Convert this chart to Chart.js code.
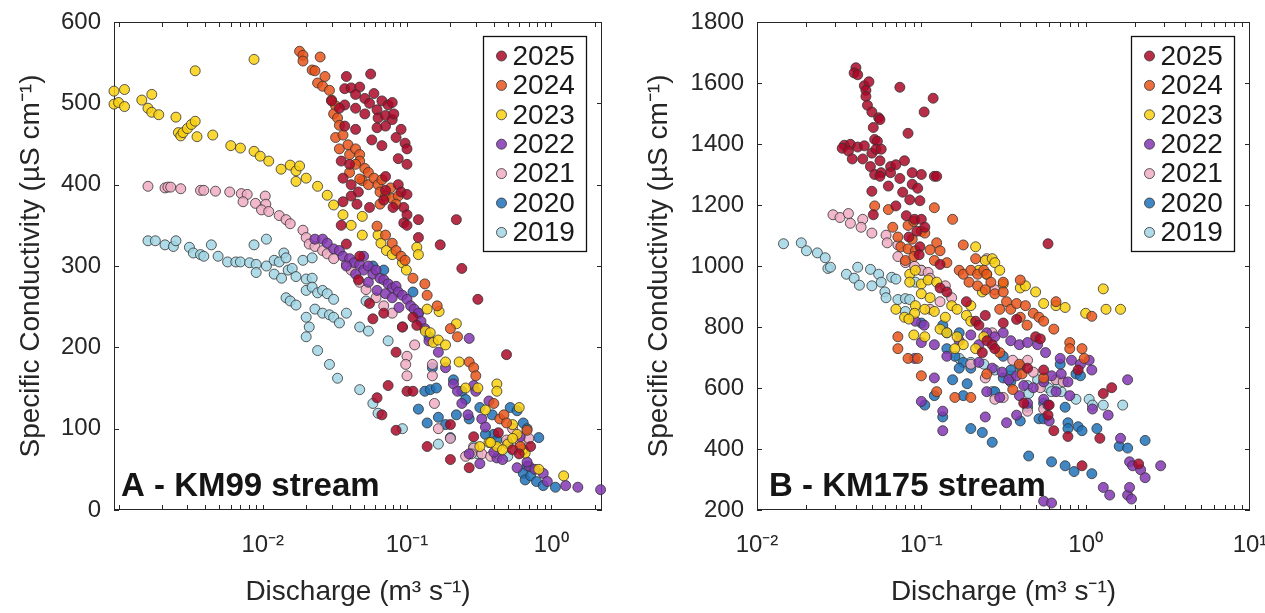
<!DOCTYPE html>
<html>
<head>
<meta charset="utf-8">
<script src="https://cdn.jsdelivr.net/npm/chart.js@4.4.1/dist/chart.umd.min.js"></script>
<style>
  body { margin: 0; background: #fff; width: 1265px; height: 613px; overflow: hidden; }
  canvas { position: absolute; top: 0; }
</style>
</head>
<body>
<canvas id="chartA" width="632" height="613" style="left:0"></canvas>
<canvas id="chartB" width="633" height="613" style="left:632px"></canvas>
<script>
const years = ['2025', '2024', '2023', '2022', '2021', '2020', '2019'];
const fills = ['rgba(172,8,40,0.85)', 'rgba(232,85,26,0.85)', 'rgba(249,208,14,0.85)', 'rgba(132,55,179,0.85)',
               'rgba(240,173,196,0.85)', 'rgba(32,114,185,0.85)', 'rgba(161,214,228,0.85)'];
const edge = 'rgba(50,50,50,0.8)';
const ink = '#262626';

// labelled decades on the discharge axes
const decadesA = [0.01, 0.1, 1];
const decadesB = [0.01, 0.1, 1, 10];

// KM99 stream: [discharge m3/s, specific conductivity uS/cm]
const km99_2025 = [[0.038,533],[0.056,536],[0.037,518],[0.041,519],[0.047,520],[0.044,511],[0.051,506],[0.059,512],[0.055,500],[0.067,503],[0.074,498],[0.079,501],[0.03,503],[0.037,498],[0.034,494],[0.044,494],[0.051,487],[0.062,492],[0.063,482],[0.071,485],[0.079,480],[0.081,487],[0.091,468],[0.071,472],[0.062,470],[0.044,468],[0.037,472],[0.057,455],[0.067,448],[0.084,458],[0.097,451],[0.1,444],[0.087,432],[0.1,425],[0.035,429],[0.04,425],[0.036,408],[0.041,400],[0.046,391],[0.041,386],[0.036,379],[0.045,376],[0.055,372],[0.071,410],[0.087,400],[0.071,393],[0.091,391],[0.1,388],[0.069,381],[0.08,372],[0.095,372],[0.1,363],[0.095,353],[0.1,350],[0.12,357],[0.12,335],[0.035,350],[0.038,327],[0.22,357],[0.17,326],[0.24,297],[0.31,259],[0.49,191],[0.047,312],[0.046,283],[0.055,254],[0.058,235],[0.069,242],[0.093,225],[0.11,237],[0.117,227],[0.084,194],[0.074,153],[0.1,146],[0.11,146],[0.062,138],[0.067,117],[0.084,98],[0.2,105],[0.138,78],[0.2,62],[0.27,52],[0.29,90],[0.54,74],[0.72,78],[0.6,69],[0.43,95]];
const km99_2024 = [[0.018,564],[0.019,559],[0.019,552],[0.025,557],[0.022,541],[0.023,540],[0.024,525],[0.027,533],[0.026,521],[0.029,516],[0.03,504],[0.032,497],[0.031,487],[0.033,482],[0.034,473],[0.032,458],[0.036,461],[0.034,444],[0.039,449],[0.04,437],[0.044,444],[0.047,437],[0.047,429],[0.044,425],[0.051,420],[0.054,415],[0.04,415],[0.049,405],[0.054,400],[0.059,408],[0.063,400],[0.067,406],[0.077,396],[0.065,391],[0.071,386],[0.065,376],[0.079,383],[0.087,386],[0.084,376],[0.047,407],[0.062,349],[0.071,338],[0.079,328],[0.084,319],[0.091,312],[0.097,307],[0.11,285],[0.133,278],[0.138,264],[0.162,251],[0.2,223],[0.224,213],[0.27,182],[0.29,175],[0.3,165],[0.4,131],[0.44,112],[0.47,117],[0.49,107],[0.61,78],[0.68,98]];
const km99_2023 = [[0.00093,515],[0.00093,499],[0.001,501],[0.0011,496],[0.0011,517],[0.00145,504],[0.0016,494],[0.0017,511],[0.0017,489],[0.0019,486],[0.0025,483],[0.0026,464],[0.0027,460],[0.0028,464],[0.003,469],[0.0032,474],[0.0034,478],[0.0035,459],[0.0034,540],[0.0045,461],[0.006,448],[0.007,445],[0.0087,554],[0.0087,441],[0.0096,435],[0.011,429],[0.0134,419],[0.0155,424],[0.017,417],[0.018,423],[0.017,404],[0.02,408],[0.024,398],[0.028,387],[0.031,375],[0.036,363],[0.041,350],[0.049,361],[0.049,338],[0.063,338],[0.066,328],[0.072,319],[0.079,314],[0.093,304],[0.099,295],[0.117,323],[0.12,314],[0.138,247],[0.167,244],[0.134,220],[0.145,218],[0.152,206],[0.165,209],[0.185,203],[0.185,182],[0.22,229],[0.23,182],[0.255,150],[0.31,150],[0.42,155],[0.42,146],[0.35,123],[0.37,83],[0.42,78],[0.5,81],[0.54,105],[0.6,126],[0.58,93],[0.63,74],[0.66,70],[0.54,88],[0.82,50],[1.22,42],[0.32,78],[0.38,83],[0.46,74]];
const km99_2022 = [[0.023,333],[0.026,333],[0.028,328],[0.031,321],[0.034,319],[0.036,312],[0.04,309],[0.043,304],[0.047,302],[0.05,295],[0.054,300],[0.058,290],[0.061,295],[0.065,285],[0.069,283],[0.074,278],[0.079,273],[0.084,275],[0.087,268],[0.093,264],[0.1,259],[0.106,251],[0.112,247],[0.12,242],[0.125,232],[0.133,223],[0.044,290],[0.054,280],[0.062,270],[0.071,266],[0.079,261],[0.088,249],[0.05,312],[0.038,300],[0.142,208],[0.165,194],[0.185,175],[0.21,155],[0.224,146],[0.24,131],[0.265,117],[0.27,211],[0.29,153],[0.3,146],[0.37,134],[0.33,112],[0.35,102],[0.42,64],[0.46,62],[0.58,52],[0.7,54],[0.77,50],[0.88,45],[0.94,35],[1.26,30],[1.53,28],[2.2,25],[0.61,90],[0.68,59],[0.27,69],[0.32,57],[0.4,71]];
const km99_2021 = [[0.0016,398],[0.0021,396],[0.0022,397],[0.0023,397],[0.0027,395],[0.0037,393],[0.0039,393],[0.0047,392],[0.0059,391],[0.0071,389],[0.0078,388],[0.0073,379],[0.0089,377],[0.0104,386],[0.0105,376],[0.0098,369],[0.011,367],[0.013,362],[0.0145,357],[0.0155,352],[0.019,344],[0.02,335],[0.021,327],[0.023,324],[0.026,319],[0.028,315],[0.031,309],[0.038,302],[0.041,295],[0.047,280],[0.052,271],[0.061,261],[0.069,251],[0.079,242],[0.093,225],[0.113,203],[0.1,189],[0.098,179],[0.1,165],[0.15,179],[0.15,165],[0.155,131],[0.165,100],[0.2,88],[0.29,76],[0.28,69],[0.33,69],[0.38,66],[0.49,86],[0.54,100],[0.61,83],[0.7,88],[0.255,66]];
const km99_2020 = [[0.058,300],[0.069,295],[0.11,268],[0.12,242],[0.142,213],[0.15,175],[0.133,146],[0.145,148],[0.16,150],[0.12,124],[0.138,107],[0.165,114],[0.185,105],[0.2,89],[0.21,160],[0.24,146],[0.255,136],[0.32,126],[0.39,117],[0.4,93],[0.52,126],[0.58,122],[0.64,107],[0.68,100],[0.82,89],[0.64,74],[0.68,54],[0.64,45],[0.66,37],[0.72,42],[0.79,35],[0.88,30],[1.07,28],[0.22,117],[0.27,112],[0.35,93],[0.42,86],[0.5,83]];
const km99_2019 = [[0.0016,331],[0.0018,331],[0.0021,326],[0.0024,324],[0.0025,331],[0.0031,323],[0.0033,316],[0.0037,314],[0.0039,312],[0.0044,326],[0.0049,312],[0.0057,305],[0.0065,305],[0.007,305],[0.0081,304],[0.009,302],[0.0087,326],[0.009,292],[0.0106,333],[0.0106,300],[0.012,307],[0.013,305],[0.014,316],[0.0145,310],[0.015,295],[0.016,297],[0.017,287],[0.019,307],[0.022,310],[0.02,284],[0.022,285],[0.012,290],[0.0135,285],[0.0145,261],[0.0155,257],[0.017,252],[0.02,270],[0.022,274],[0.024,267],[0.026,270],[0.028,266],[0.031,259],[0.023,247],[0.026,242],[0.029,240],[0.031,237],[0.034,230],[0.038,242],[0.02,237],[0.021,225],[0.02,213],[0.024,196],[0.029,179],[0.033,162],[0.047,225],[0.054,220],[0.047,148],[0.058,131],[0.063,119],[0.074,208],[0.052,257],[0.093,100],[0.165,81],[0.29,78],[0.31,69],[0.5,66]];

// KM175 stream
const km175_2025 = [[0.04,1650],[0.039,1633],[0.041,1627],[0.045,1591],[0.048,1604],[0.046,1576],[0.074,1586],[0.046,1556],[0.047,1527],[0.05,1505],[0.055,1486],[0.056,1480],[0.051,1454],[0.104,1505],[0.118,1550],[0.052,1415],[0.054,1409],[0.083,1435],[0.034,1396],[0.037,1399],[0.041,1390],[0.045,1394],[0.033,1386],[0.036,1377],[0.038,1351],[0.044,1351],[0.05,1370],[0.053,1383],[0.057,1383],[0.056,1345],[0.049,1326],[0.052,1300],[0.057,1306],[0.065,1326],[0.07,1332],[0.079,1345],[0.065,1306],[0.074,1287],[0.056,1294],[0.063,1262],[0.077,1242],[0.088,1268],[0.088,1306],[0.1,1300],[0.12,1294],[0.124,1294],[0.095,1255],[0.05,1245],[0.085,1217],[0.098,1214],[0.051,1168],[0.07,1197],[0.081,1165],[0.091,1153],[0.1,1153],[0.105,1127],[0.094,1114],[0.084,1095],[0.098,1063],[0.097,1037],[0.13,1005],[0.13,928],[0.143,915],[0.188,883],[0.214,819],[0.224,806],[0.245,838],[0.251,755],[0.27,742],[0.28,729],[0.315,813],[0.38,825],[0.496,768],[0.53,761],[0.59,1073],[0.443,665],[0.42,550],[0.555,659],[0.6,544],[0.59,511],[0.64,460],[0.78,441],[0.9,659],[0.95,345],[1.28,582],[1.44,601],[1.22,435],[2.1,351],[0.235,716]];
const km175_2024 = [[0.052,1197],[0.063,1185],[0.12,1191],[0.155,1153],[0.067,1127],[0.083,1133],[0.09,1146],[0.1,1114],[0.072,1095],[0.088,1088],[0.105,1108],[0.124,1076],[0.075,1063],[0.083,1056],[0.092,1050],[0.113,1053],[0.13,1050],[0.08,1018],[0.09,1031],[0.12,1018],[0.143,1011],[0.17,986],[0.18,1069],[0.214,1024],[0.18,973],[0.2,986],[0.22,973],[0.24,986],[0.25,973],[0.195,947],[0.22,935],[0.265,947],[0.245,922],[0.28,909],[0.315,915],[0.33,883],[0.3,858],[0.35,858],[0.38,877],[0.315,947],[0.4,954],[0.43,870],[0.48,845],[0.52,832],[0.555,819],[0.64,793],[0.66,883],[0.8,749],[0.95,729],[0.98,697],[1.09,835],[0.8,729],[0.4,832],[0.44,806],[0.3,716],[0.25,646],[0.395,678],[0.41,646],[0.555,633],[0.072,768],[0.072,729],[0.083,697],[0.1,640],[0.124,588],[0.16,569],[0.2,569],[0.095,697],[0.36,595]];
const km175_2023 = [[0.214,1063],[0.245,1018],[0.27,1024],[0.28,1011],[0.3,986],[0.25,973],[0.224,986],[0.235,915],[0.315,941],[0.4,928],[0.43,935],[0.496,915],[0.555,877],[0.66,870],[0.75,864],[1.0,845],[1.28,925],[1.33,858],[1.63,858],[0.085,973],[0.092,986],[0.085,947],[0.1,941],[0.11,954],[0.124,947],[0.1,909],[0.113,896],[0.092,870],[0.091,845],[0.105,858],[0.12,851],[0.14,832],[0.153,870],[0.165,858],[0.188,838],[0.07,858],[0.079,832],[0.084,826],[0.09,774],[0.105,768],[0.13,793],[0.143,781],[0.165,768],[0.18,742],[0.16,729],[0.214,729],[0.24,768],[0.2,870],[0.2,819]];
const km175_2022 = [[0.092,819],[0.104,806],[0.1,749],[0.12,742],[0.143,704],[0.17,755],[0.2,774],[0.224,742],[0.25,781],[0.28,768],[0.315,781],[0.35,755],[0.395,742],[0.443,749],[0.51,742],[0.57,716],[0.7,697],[0.82,691],[1.05,691],[1.09,659],[0.224,684],[0.27,665],[0.31,652],[0.34,627],[0.38,640],[0.42,608],[0.48,601],[0.555,620],[0.62,640],[0.66,588],[0.78,620],[0.8,575],[0.71,646],[0.25,588],[0.3,569],[0.395,575],[0.443,550],[0.38,511],[0.555,563],[0.59,544],[0.6,492],[1.1,531],[1.37,511],[1.8,627],[1.63,435],[1.85,358],[1.93,345],[2.16,332],[2.3,306],[2.86,345],[1.28,274],[1.4,249],[1.8,249],[1.85,274],[1.9,236],[0.555,229],[0.62,223],[0.135,460],[0.135,524],[0.1,556],[0.12,633],[0.245,505],[0.33,486],[0.091,697],[0.93,678]];
const km175_2021 = [[0.029,1168],[0.032,1159],[0.036,1172],[0.037,1140],[0.044,1153],[0.043,1127],[0.05,1108],[0.061,1101],[0.062,1076],[0.072,1069],[0.072,1031],[0.08,1011],[0.091,999],[0.1,986],[0.11,979],[0.113,960],[0.14,935],[0.153,896],[0.13,883],[0.113,858],[0.25,1024],[0.28,922],[0.27,781],[0.2,678],[0.245,633],[0.315,569],[0.36,691],[0.443,691],[0.48,652],[0.53,601],[0.66,627],[0.73,620],[0.555,531],[0.443,524],[0.28,563]];
const km175_2020 = [[0.1,813],[0.135,806],[0.143,781],[0.17,781],[0.143,729],[0.16,704],[0.18,684],[0.17,665],[0.2,665],[0.19,614],[0.155,627],[0.12,575],[0.105,544],[0.135,505],[0.18,575],[0.2,467],[0.235,454],[0.27,422],[0.28,588],[0.315,633],[0.35,659],[0.4,672],[0.443,537],[0.4,492],[0.45,377],[0.555,550],[0.52,499],[0.555,499],[0.62,358],[0.7,678],[0.75,537],[0.78,486],[0.78,467],[0.75,345],[0.85,326],[0.873,646],[0.93,640],[0.9,473],[0.95,460],[1.09,319],[1.17,467],[1.6,409],[1.8,403],[2.3,428],[0.35,620],[0.315,704]];
const km175_2019 = [[0.0145,1073],[0.0186,1076],[0.02,1050],[0.0233,1043],[0.026,1027],[0.027,992],[0.028,996],[0.035,973],[0.041,996],[0.039,960],[0.042,937],[0.049,989],[0.05,935],[0.055,973],[0.057,947],[0.06,915],[0.061,896],[0.066,963],[0.07,957],[0.072,890],[0.08,893],[0.085,890],[0.08,851],[0.092,947],[0.1,986],[0.17,697],[0.2,684],[0.24,678],[0.28,659],[0.35,640],[0.443,608],[0.51,627],[0.59,601],[0.62,588],[0.71,588],[0.873,563],[1.05,563],[1.1,544],[1.28,544],[1.68,544],[0.27,588],[0.45,582],[0.68,614]];

const km99Series = [km99_2025, km99_2024, km99_2023, km99_2022, km99_2021, km99_2020, km99_2019];
const km175Series = [km175_2025, km175_2024, km175_2023, km175_2022, km175_2021, km175_2020, km175_2019];

Chart.defaults.font.family = '"Liberation Sans", Arial, Helvetica, sans-serif';
Chart.defaults.color = ink;

const supDigits = {'-': '\u207B', '0': '\u2070', '1': '\u00B9', '2': '\u00B2', '3': '\u00B3'};
function decadeLabeller(decades) {
    return v => {
        if (!decades.some(d => Math.abs(v / d - 1) < 1e-6)) return '';
        const e = Math.round(Math.log10(v));
        return '10' + String(e).split('').map(c => supDigits[c]).join('');
    };
}

// box, inward ticks on all four sides, legend box and panel tag, Matlab style
const matlabAxes = {
    id: 'matlabAxes',
    beforeDatasetsDraw(chart) {
        const {ctx, chartArea: a, scales: {x, y}} = chart;
        const tl = 5;
        ctx.save();
        ctx.strokeStyle = ink;
        ctx.lineWidth = 1;
        ctx.beginPath();
        const lo = Math.floor(Math.log10(x.min)), hi = Math.ceil(Math.log10(x.max));
        for (let e = lo; e <= hi; e++) {
            for (let m = 1; m < 10; m++) {
                const v = m * Math.pow(10, e);
                if (v < x.min * 1.0001 || v > x.max * 0.9999) continue;
                const px = Math.round(x.getPixelForValue(v)) + 0.5;
                ctx.moveTo(px, a.bottom); ctx.lineTo(px, a.bottom - tl);
                ctx.moveTo(px, a.top); ctx.lineTo(px, a.top + tl);
            }
        }
        y.ticks.forEach(t => {
            const py = Math.round(y.getPixelForValue(t.value)) + 0.5;
            ctx.moveTo(a.left, py); ctx.lineTo(a.left + tl, py);
            ctx.moveTo(a.right, py); ctx.lineTo(a.right - tl, py);
        });
        ctx.stroke();
        ctx.strokeRect(Math.round(a.left) + 0.5, Math.round(a.top) + 0.5,
                       Math.round(a.width) - 1, Math.round(a.height) - 1);
        ctx.restore();
    },
    afterDraw(chart, args, opts) {
        const {ctx, chartArea: a} = chart;
        ctx.save();
        ctx.font = 'bold 33px "Liberation Sans", Arial, sans-serif';
        ctx.fillStyle = '#151515';
        ctx.textBaseline = 'alphabetic';
        ctx.fillText(opts.tag, a.left + opts.tagX, a.bottom - 14);

        const w = 103, h = 215, rowH = 29.4;
        const bx = Math.round(a.right - 16 - w) + 0.5, by = Math.round(a.top + 14) + 0.5;
        ctx.fillStyle = '#fff';
        ctx.fillRect(bx, by, w, h);
        ctx.strokeStyle = '#111';
        ctx.lineWidth = 1.3;
        ctx.strokeRect(bx, by, w, h);
        ctx.font = '28px "Liberation Sans", Arial, sans-serif';
        ctx.textBaseline = 'middle';
        chart.data.datasets.forEach((ds, i) => {
            const cy = by + 19.5 + i * rowH;
            ctx.beginPath();
            ctx.arc(bx + 18, cy, 5, 0, Math.PI * 2);
            ctx.fillStyle = ds.backgroundColor;
            ctx.fill();
            ctx.strokeStyle = edge;
            ctx.lineWidth = 1;
            ctx.stroke();
            ctx.fillStyle = '#1a1a1a';
            ctx.fillText(ds.label, bx + 29, cy + 1);
        });
        ctx.restore();
    }
};

function createChart(id, series, cfg) {
    const datasets = years.map((yr, i) => ({
        label: yr,
        data: series[i].map(p => ({x: p[0], y: p[1]})),
        backgroundColor: fills[i],
        borderColor: edge,
        borderWidth: 1,
        pointRadius: 5,
        pointHoverRadius: 5,
        clip: false
    }));

    new Chart(document.getElementById(id), {
        type: 'scatter',
        data: {datasets},
        plugins: [matlabAxes],
        options: {
            responsive: false,
            animation: false,
            events: [],
            layout: {autoPadding: false, padding: {left: 0, right: cfg.padRight, top: 22, bottom: 0}},
            plugins: {
                legend: {display: false},
                tooltip: {enabled: false},
                matlabAxes: {tag: cfg.tag, tagX: cfg.tagX}
            },
            scales: {
                x: {
                    type: 'logarithmic',
                    min: cfg.xMin,
                    max: cfg.xMax,
                    afterFit: s => { s.height = 103; s.paddingLeft = 0; s.paddingRight = 0; },
                    grid: {display: false, drawTicks: false},
                    border: {display: false},
                    ticks: {autoSkip: false, maxRotation: 0, padding: 21, color: ink,
                            font: {size: 24}, callback: decadeLabeller(cfg.decades)},
                    title: {display: true, text: 'Discharge (m\u00B3 s\u207B\u00B9)', color: ink,
                            font: {size: 28}, padding: {top: 0, bottom: 4}}
                },
                y: {
                    min: cfg.yMin,
                    max: cfg.yMax,
                    afterFit: s => { s.width = cfg.yWidth; s.paddingTop = 0; s.paddingBottom = 0; },
                    grid: {display: false, drawTicks: false},
                    border: {display: false},
                    ticks: {stepSize: cfg.yStep, padding: 13, color: ink, font: {size: 24},
                            callback: v => String(v)},
                    title: {display: true, text: 'Specific Conductivity (\u00B5S cm\u207B\u00B9)', color: ink,
                            font: {size: 28}, padding: {top: cfg.yTitlePad, bottom: 0}}
                }
            }
        }
    });
}

createChart('chartA', km99Series, {
    tag: 'A - KM99 stream', tagX: 7, xMin: 0.00093, xMax: 2.25, decades: decadesA,
    yMin: 0, yMax: 600, yStep: 100, yWidth: 114, padRight: 30, yTitlePad: 14
});
createChart('chartB', km175Series, {
    tag: 'B - KM175 stream', tagX: 12, xMin: 0.01, xMax: 10, decades: decadesB,
    yMin: 200, yMax: 1800, yStep: 200, yWidth: 125, padRight: 15, yTitlePad: 10
});
</script>
</body>
</html>
